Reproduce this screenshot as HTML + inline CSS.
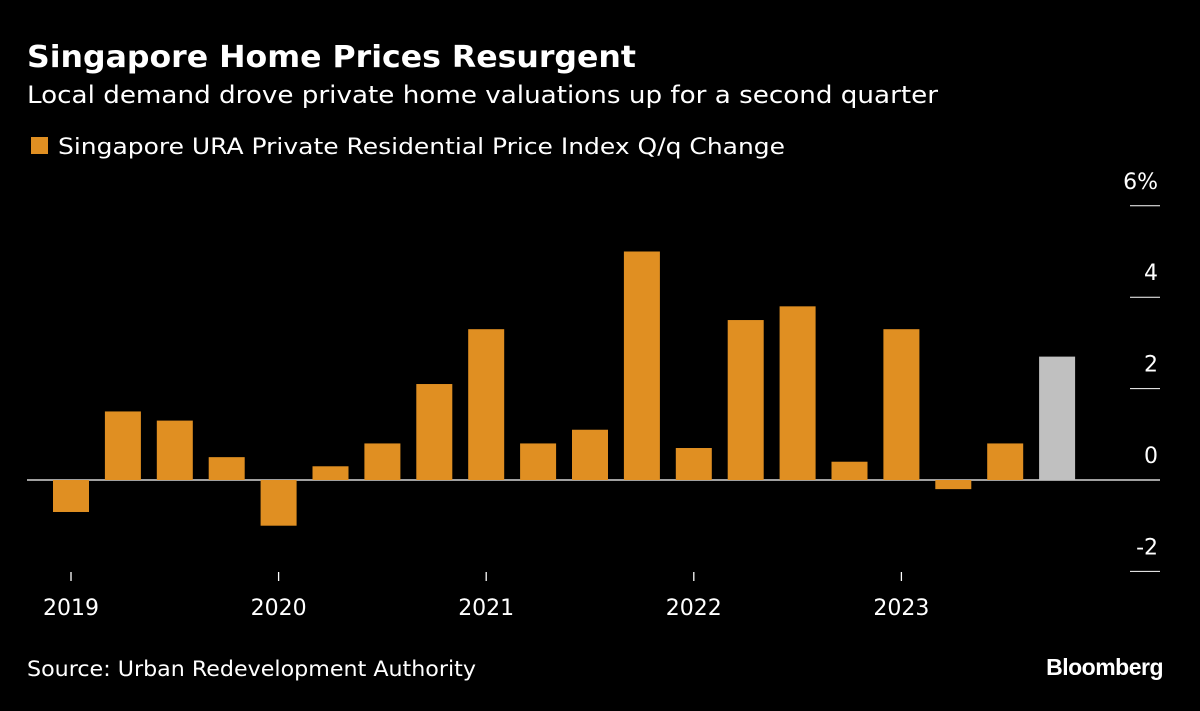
<!DOCTYPE html>
<html><head><meta charset="utf-8">
<style>
body{margin:0;background:#000;width:1200px;height:707px;overflow:hidden;font-family:"DejaVu Sans","Liberation Sans",sans-serif;color:#fff}
</style></head>
<body>
<svg width="1200" height="707" viewBox="0 0 1200 707" xmlns="http://www.w3.org/2000/svg" font-family="DejaVu Sans, Liberation Sans, sans-serif">
<rect width="1200" height="707" fill="#000"/>
<text x="27" y="67" font-size="30" font-weight="bold" fill="#fff" textLength="609" lengthAdjust="spacingAndGlyphs">Singapore Home Prices Resurgent</text>
<text x="27" y="103" font-size="24" fill="#fff" textLength="911" lengthAdjust="spacingAndGlyphs">Local demand drove private home valuations up for a second quarter</text>
<rect x="31" y="137" width="17" height="17" fill="#e08f22"/>
<text x="58" y="154" font-size="22" fill="#fff" textLength="727" lengthAdjust="spacingAndGlyphs">Singapore URA Private Residential Price Index Q/q Change</text>
<g id="axes"></g>
<g id="bars"></g>
<text x="27" y="676" font-size="21" fill="#fff" textLength="449" lengthAdjust="spacingAndGlyphs">Source: Urban Redevelopment Authority</text>
<text x="1163" y="675" font-size="23" font-weight="bold" fill="#fff" text-anchor="end" font-family="Liberation Sans, sans-serif" letter-spacing="-0.5">Bloomberg</text>
</svg>
<script>
const values=[-0.7,1.5,1.3,0.5,-1.0,0.3,0.8,2.1,3.3,0.8,1.1,5.0,0.7,3.5,3.8,0.4,3.3,-0.2,0.8,2.7];
const yTicks=[6,4,2,0,-2];
const yTickLabels=["6%","4","2","0","-2"];
const yearLabels=["2019","2020","2021","2022","2023"];
const yearIndex=[0,4,8,12,16];
const NS="http://www.w3.org/2000/svg";
function y(v){return 480-v*45.7;}
function x(i){return 71+i*51.9;}
function mk(t,a,p){const e=document.createElementNS(NS,t);for(const k in a)e.setAttribute(k,a[k]);p.appendChild(e);return e;}
const ax=document.getElementById('axes'),bg=document.getElementById('bars');
yTicks.forEach((v,i)=>{
 const l=mk('line',{x1:1130,x2:1160,y1:y(v),y2:y(v),stroke:'#fff','stroke-width':1},ax);
 
 
 const t=mk('text',{x:1158,y:y(v)-17,'font-size':22,fill:'#fff','text-anchor':'end'},ax);
 t.textContent=yTickLabels[i];
 
 
});
values.forEach((v,i)=>{
 const top=Math.min(y(v),y(0)),h=Math.abs(y(v)-y(0));
 const r=mk('rect',{x:x(i)-18,y:top,width:36,height:h,fill:i===values.length-1?'#c0c0c0':'#e08f22'},bg);
 
 
});
const z=mk('line',{x1:27,x2:1160,y1:y(0),y2:y(0),stroke:'#fff','stroke-width':1.3},ax);


yearLabels.forEach((lab,k)=>{
 const cx=x(yearIndex[k]);
 const l=mk('line',{x1:cx,x2:cx,y1:572,y2:581,stroke:'#fff','stroke-width':1.3},ax);
 
 
 const t=mk('text',{x:cx,y:615,'font-size':22,fill:'#fff','text-anchor':'middle'},ax);
 t.textContent=lab;
 
 
});
</script>
</body></html>
